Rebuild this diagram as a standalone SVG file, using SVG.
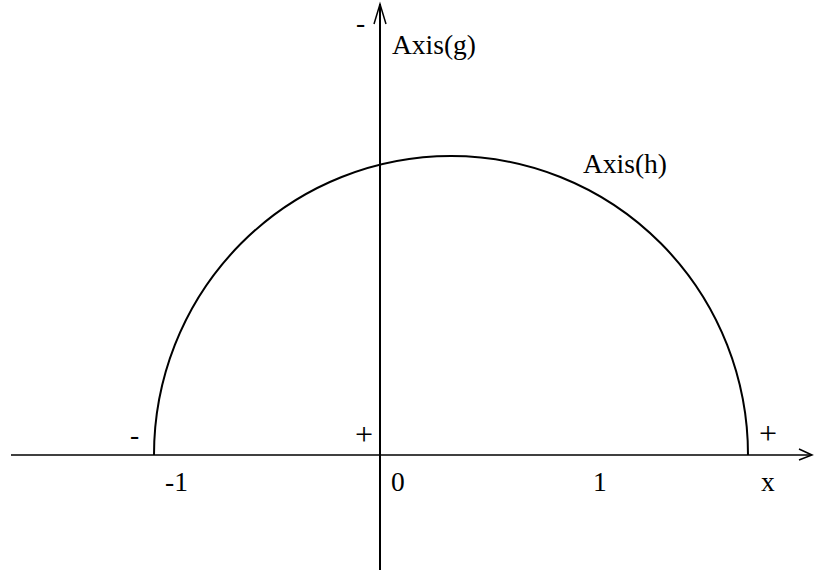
<svg xmlns="http://www.w3.org/2000/svg" width="814" height="575" viewBox="0 0 814 575">
<style>
.ax{stroke:#000;fill:none;stroke-width:2}
.ah{stroke:#000;fill:none;stroke-width:1.5}
.t{font-family:"Liberation Serif","Times New Roman",serif;font-size:27.5px;fill:#000}
.p{font-size:32px}
</style>
<rect width="814" height="575" fill="#fff"/>
<g id="connectors">
<line class="ah" x1="11" y1="455" x2="811" y2="455"/>
<polyline class="ah" points="799,449 812,455 799,460"/>
<line class="ax" x1="380" y1="570" x2="380" y2="4"/>
<polyline class="ah" points="374,24 380,4 386,24"/>
</g>
<g id="axis-h">
<path class="ax" d="M154,455 A297,299 0 0 1 748,455"/>
<text class="t" x="583" y="173">Axis(h)</text>
</g>
<g id="axis-g">
<text class="t" x="392" y="54">Axis(g)</text>
</g>
<g id="labels">
<text class="t" x="356" y="32">-</text>
<text class="t" x="130" y="444">-</text>
<text class="t p" x="355" y="445">+</text>
<text class="t p" x="759" y="444">+</text>
<text class="t" x="165" y="491">-1</text>
<text class="t" x="391" y="491">0</text>
<text class="t" x="593" y="491">1</text>
<text class="t" x="761" y="491">x</text>
</g>
</svg>
